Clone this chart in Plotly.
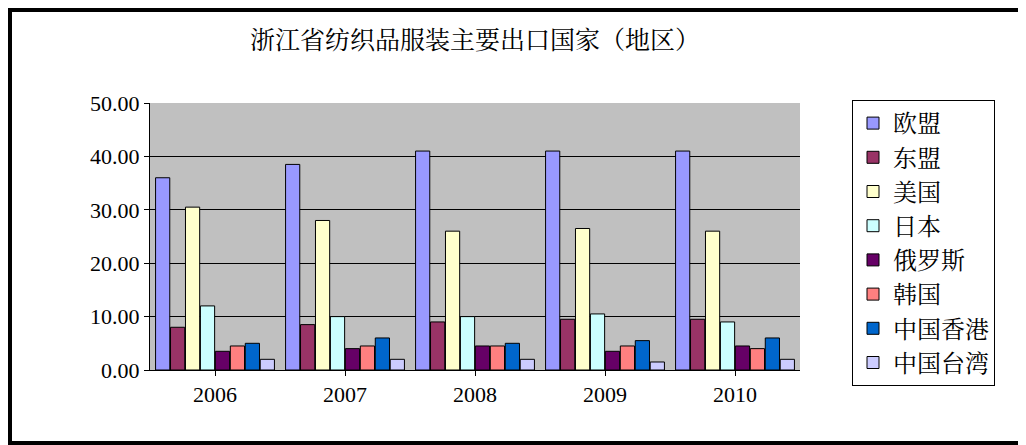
import plotly.graph_objects as go

years = ['2006', '2007', '2008', '2009', '2010']
regions = ['欧盟', '东盟', '美国', '日本', '俄罗斯', '韩国', '中国香港', '中国台湾']
values = {
    '欧盟': [36.0, 38.5, 41.0, 41.0, 41.0],
    '东盟': [8.0, 8.5, 9.0, 9.5, 9.5],
    '美国': [30.5, 28.0, 26.0, 26.5, 26.0],
    '日本': [12.0, 10.0, 10.0, 10.5, 9.0],
    '俄罗斯': [3.5, 4.0, 4.5, 3.5, 4.5],
    '韩国': [4.5, 4.5, 4.5, 4.5, 4.0],
    '中国香港': [5.0, 6.0, 5.0, 5.5, 6.0],
    '中国台湾': [2.0, 2.0, 2.0, 1.5, 2.0],
}
colors = ['#9999FF', '#993366', '#FFFFCC', '#CCFFFF', '#660066', '#FF8080', '#0066CC', '#CCCCFF']

font = 'Liberation Serif, Noto Serif CJK SC, Noto Sans CJK SC'

fig = go.Figure()
for name, c in zip(regions, colors):
    fig.add_trace(go.Bar(x=years, y=values[name], name=name, marker_color=c,
                         marker_line=dict(color='black', width=1)))

# page has an 8px body margin, so the figure is 1018x437 and offset by 8px
FW, FH = 1018, 437
L, T = 142, 95
W, H = 650, 267
fig.update_layout(
    width=FW, height=FH,
    paper_bgcolor='white', plot_bgcolor='#C0C0C0',
    font=dict(family=font, size=22, color='black'),
    title=dict(text='浙江省纺织品服装主要出口国家（地区）', x=0.5, xref='paper',
               y=1 - 32 / FH, yanchor='middle', font=dict(size=25)),
    margin=dict(l=L, r=FW - L - W, t=T, b=FH - T - H, pad=0, autoexpand=False),
    bargap=0.08, bargroupgap=0.05,
    yaxis=dict(range=[0, 50], dtick=10, tickformat='.2f', showgrid=True,
               gridcolor='black', gridwidth=1, showline=True, linecolor='black',
               ticks='outside', ticklen=5, tickcolor='black', zeroline=False),
    xaxis=dict(showline=True, linecolor='black', ticks='outside', tickcolor='black'),
    legend=dict(x=(844 - L) / W, y=(T + H - 92) / H, xanchor='left', yanchor='top',
                bordercolor='black', borderwidth=1, bgcolor='white',
                font=dict(size=24), tracegroupgap=0, maxheight=330),
    shapes=[dict(type='rect', xref='paper', yref='paper',
                 x0=(2 - L) / W, x1=(FW - 2 - L) / W,
                 y0=(T + H - (FH - 2)) / H, y1=(T + H - 2) / H,
                 line=dict(color='black', width=4))],
)

fig.write_html('out.html')
